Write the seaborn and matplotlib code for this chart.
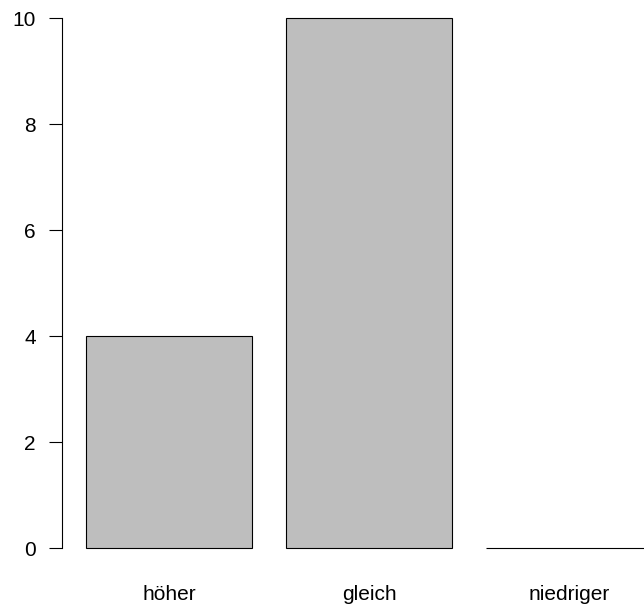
import matplotlib
matplotlib.use("Agg")
import matplotlib.pyplot as plt
import seaborn as sns

categories = ["höher", "gleich", "niedriger"]
values = [4, 10, 0]
y_ticks = [0, 2, 4, 6, 8, 10]

sns.set_theme(style="white")
plt.rcParams["font.family"] = ["Liberation Sans", "DejaVu Sans"]
plt.rcParams["text.color"] = "black"

fig = plt.figure(figsize=(6.44, 6.1), dpi=100)
ax = fig.add_axes([0, 0, 1, 1])

sns.barplot(x=categories, y=values, color="#BEBEBE", saturation=1,
            edgecolor="black", linewidth=0.8, width=1 / 1.2, ax=ax)

# map pixels: bar pitch 200px, value unit 53px
ax.set_xlim(-169 / 200, (644 - 169) / 200)
ax.set_ylim(-(610 - 548) / 53, 10 + 18 / 53)

for s in ["top", "right", "bottom"]:
    ax.spines[s].set_visible(False)
ax.spines["left"].set_position(("data", (62 - 169) / 200))
ax.spines["left"].set_bounds(0, 10)
ax.spines["left"].set_color("black")
ax.spines["left"].set_linewidth(0.8)

ax.set_yticks(y_ticks)
ax.set_yticklabels([str(t) for t in y_ticks])
ax.tick_params(axis="y", direction="out", length=9.4, width=0.8,
               color="black", labelcolor="black", pad=9.4, labelsize=15,
               left=True)

ax.set_xticks([])
for i, c in enumerate(categories):
    ax.text(i, (548 - 594) / 53, c, ha="center", va="center",
            fontsize=15, color="black")

ax.set_xlabel("")
ax.set_ylabel("")
ax.grid(False)

fig.savefig("out.png", dpi=100)
